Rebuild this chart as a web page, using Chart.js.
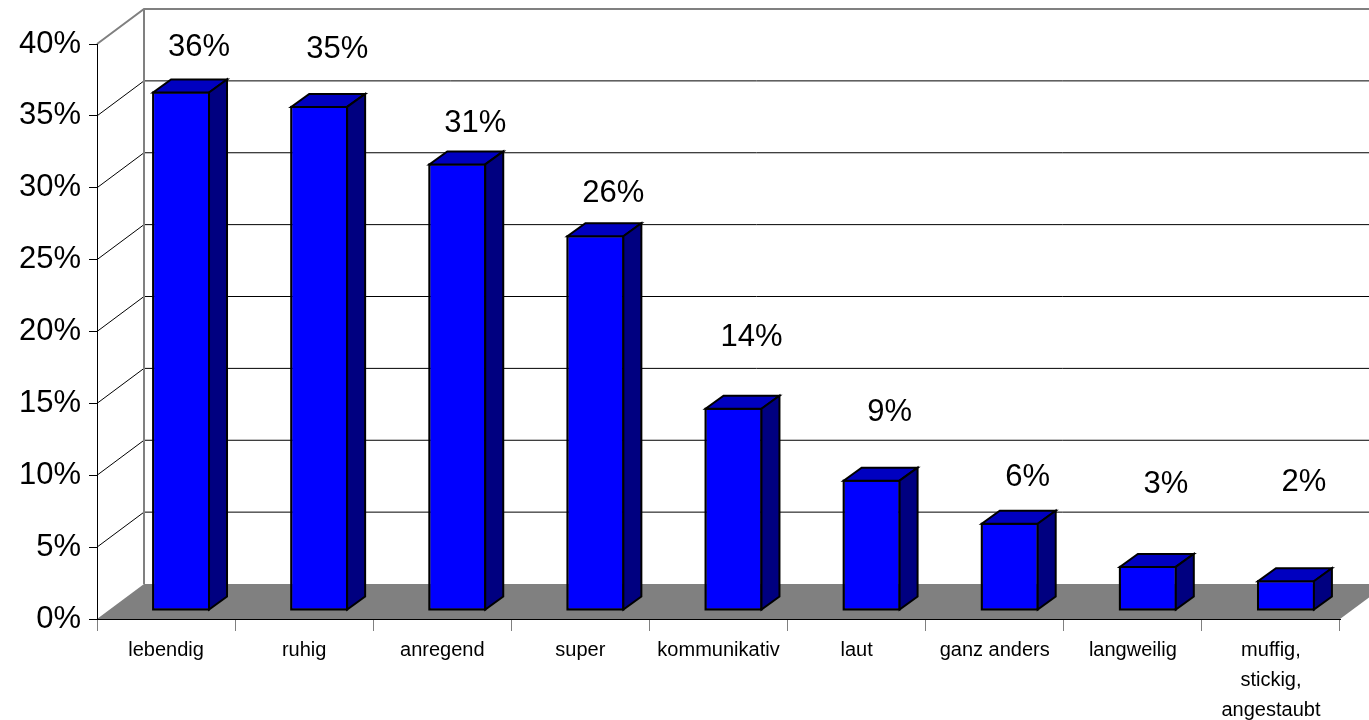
<!DOCTYPE html>
<html>
<head>
<meta charset="utf-8">
<script src="https://cdn.jsdelivr.net/npm/chart.js@4/dist/chart.umd.min.js"></script>
<style>
  html, body { margin: 0; padding: 0; background: #fff; }
  #wrap { width: 1369px; height: 720px; position: relative; }
</style>
</head>
<body>
<div id="wrap"><canvas id="moodChart"></canvas></div>
<script>
var categories = ['lebendig', 'ruhig', 'anregend', 'super', 'kommunikativ', 'laut', 'ganz anders', 'langweilig', ['muffig,', 'stickig,', 'angestaubt']];
var shares = [36, 35, 31, 26, 14, 9, 6, 3, 2];
var yTicks = [0, 5, 10, 15, 20, 25, 30, 35, 40];

// 3d look: back wall offset, bar plane offset, bar depth
var wallOff = { dx: 47, dy: -35 };
var barOff = { dx: 15, dy: -9 };
var barDepth = { dx: 18, dy: -13 };
// how far each value label sits above its bar (excel placed them unevenly)
var labelLift = [45, 57, 41, 43, 71, 68, 46, 82, 99];

var fontFam = '"Liberation Sans", Arial, sans-serif';

var box3d = {
    id: 'box3d',
    beforeDraw: function(chart) {
        var ctx = chart.ctx, a = chart.chartArea, y = chart.scales.y;
        ctx.save();
        // floor
        ctx.fillStyle = '#808080';
        ctx.beginPath();
        ctx.moveTo(a.left, a.bottom);
        ctx.lineTo(a.right, a.bottom);
        ctx.lineTo(a.right + wallOff.dx, a.bottom + wallOff.dy);
        ctx.lineTo(a.left + wallOff.dx, a.bottom + wallOff.dy);
        ctx.closePath();
        ctx.fill();
        // grid on side + back wall
        yTicks.forEach(function(v) {
            if (v === 0) return;
            var py = y.getPixelForValue(v);
            var top = v === yTicks[yTicks.length - 1];
            ctx.strokeStyle = top ? '#808080' : '#000';
            ctx.lineWidth = top ? 2 : 1;
            ctx.beginPath();
            ctx.moveTo(a.left, py);
            ctx.lineTo(a.left + wallOff.dx, py + wallOff.dy);
            ctx.lineTo(chart.width, py + wallOff.dy);
            ctx.stroke();
        });
        // back wall left edge
        ctx.strokeStyle = '#808080';
        ctx.lineWidth = 2;
        ctx.beginPath();
        ctx.moveTo(a.left + wallOff.dx, y.getPixelForValue(40) + wallOff.dy);
        ctx.lineTo(a.left + wallOff.dx, a.bottom + wallOff.dy);
        ctx.stroke();
        ctx.restore();
    },
    beforeDatasetsDraw: function(chart) {
        chart.ctx.save();
        chart.ctx.translate(barOff.dx, barOff.dy);
    },
    afterDatasetsDraw: function(chart) {
        var ctx = chart.ctx;
        ctx.restore();
        ctx.save();
        var bars = chart.getDatasetMeta(0).data;
        bars.forEach(function(bar, i) {
            var l = bar.x - bar.width / 2 + barOff.dx;
            var r = bar.x + bar.width / 2 + barOff.dx;
            var t = bar.y + barOff.dy;
            var b = bar.base + barOff.dy;
            ctx.lineWidth = 2;
            ctx.strokeStyle = '#000';
            ctx.lineJoin = 'miter';
            // front outline
            ctx.strokeRect(l, t, r - l, b - t);
            // top face
            ctx.fillStyle = '#0000C0';
            ctx.beginPath();
            ctx.moveTo(l, t);
            ctx.lineTo(r, t);
            ctx.lineTo(r + barDepth.dx, t + barDepth.dy);
            ctx.lineTo(l + barDepth.dx, t + barDepth.dy);
            ctx.closePath();
            ctx.fill();
            ctx.stroke();
            // side face
            ctx.fillStyle = '#000080';
            ctx.beginPath();
            ctx.moveTo(r, t);
            ctx.lineTo(r + barDepth.dx, t + barDepth.dy);
            ctx.lineTo(r + barDepth.dx, b + barDepth.dy);
            ctx.lineTo(r, b);
            ctx.closePath();
            ctx.fill();
            ctx.stroke();
            // value label
            ctx.fillStyle = '#000';
            ctx.font = '31px ' + fontFam;
            ctx.textAlign = 'center';
            ctx.textBaseline = 'middle';
            ctx.fillText(shares[i] + '%', (l + r) / 2 + 18, t - labelLift[i]);
        });
        ctx.restore();
    }
};

var moodCtx = document.getElementById('moodChart').getContext('2d');

var moodChart = new Chart(moodCtx, {
    type: 'bar',
    data: {
        labels: categories,
        datasets: [{
            data: shares,
            backgroundColor: '#0000FF',
            borderColor: '#000',
            borderWidth: 1,
            borderSkipped: false,
            categoryPercentage: 1,
            barPercentage: 0.405,
            clip: false
        }]
    },
    options: {
        responsive: true,
        maintainAspectRatio: false,
        devicePixelRatio: 1,
        animation: false,
        layout: {
            padding: { top: 44, right: 29, left: 0, bottom: 0 }
        },
        plugins: {
            legend: { display: false },
            tooltip: { enabled: false }
        },
        scales: {
            x: {
                grid: {
                    offset: true,
                    drawOnChartArea: false,
                    tickLength: 12,
                    color: '#808080'
                },
                border: { display: true, color: '#000', width: 1 },
                ticks: {
                    color: '#000',
                    padding: 4,
                    maxRotation: 0,
                    autoSkip: false,
                    font: { family: fontFam, size: 20, lineHeight: 1.5 }
                },
                afterFit: function(scale) { scale.height = 101; }
            },
            y: {
                min: 0,
                max: 40,
                afterBuildTicks: function(scale) {
                    scale.ticks = yTicks.map(function(v) { return { value: v }; });
                },
                grid: {
                    drawOnChartArea: false,
                    tickLength: 8,
                    color: '#000'
                },
                border: { display: true, color: '#000', width: 1 },
                ticks: {
                    color: '#000',
                    padding: 8,
                    font: { family: fontFam, size: 31 },
                    callback: function(v) { return v + '%'; }
                },
                afterFit: function(scale) { scale.width = 97; }
            }
        }
    },
    plugins: [box3d]
});
</script>
</body>
</html>
